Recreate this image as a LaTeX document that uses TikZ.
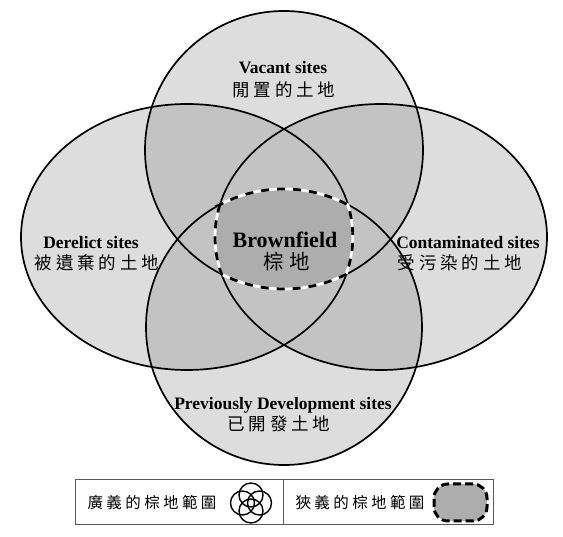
\documentclass[tikz,border=0pt]{standalone}
\usepackage{fontspec}
\setmainfont{Liberation Serif}
\newfontfamily\cjk{Noto Sans CJK TC}
\def\spacedtext#1{\spacedtexti#1\relax}
\def\spacedtexti#1#2{#1\ifx#2\relax\else\kern0.22em\expandafter\spacedtexti\expandafter#2\fi}
\definecolor{lightg}{gray}{0.865}
\definecolor{medg}{gray}{0.765}
\definecolor{darkg}{gray}{0.68}
\definecolor{boxline}{gray}{0.35}
\tikzset{
  en/.style={font=\fontsize{17.5}{18}\selectfont\bfseries, inner sep=0pt},
  zh/.style={font=\fontsize{17.5}{18}\selectfont\cjk, inner sep=0pt},
  legzh/.style={font=\fontsize{15.5}{16}\selectfont\cjk, inner sep=0pt},
  outline/.style={draw=black, line width=1.7pt},
}
\def\pT{(284,387) circle[radius=139]}
\def\pB{(284,210) circle[radius=138]}
\def\pL{(187,300) circle[x radius=166, y radius=133]}
\def\pR{(381,300) circle[x radius=166, y radius=133]}
\def\pC{(219.9,332.2) arc[start angle=166, end angle=196.3, x radius=166, y radius=133]
  arc[start angle=243.4, end angle=296.6, radius=139]
  arc[start angle=-16.3, end angle=14, x radius=166, y radius=133]
  arc[start angle=62.3, end angle=117.7, radius=138] -- cycle}
\begin{document}
\begin{tikzpicture}[x=1pt,y=1pt]
\useasboundingbox (0,0) rectangle (563,537);
% single fills
\fill[lightg] \pT; \fill[lightg] \pB; \fill[lightg] \pL; \fill[lightg] \pR;
% overlaps
\begin{scope}\clip \pT; \fill[medg] \pL; \fill[medg] \pR; \fill[medg] \pB;\end{scope}
\begin{scope}\clip \pL; \fill[medg] \pR; \fill[medg] \pB;\end{scope}
\begin{scope}\clip \pR; \fill[medg] \pB;\end{scope}
% centre
\fill[darkg] \pC;
% outlines
\draw[outline] \pT; \draw[outline] \pB; \draw[outline] \pL; \draw[outline] \pR;
% dashed brownfield border
\draw[white, line width=2.8pt] \pC;
\draw[black, line width=2.8pt, dash pattern=on 8pt off 8pt] \pC;
% labels
\node[en] (vacEn) at (283,469) {Vacant sites};
\node[zh] (vacZh) at (284,447) {\spacedtext{閒置的土地}};
\node[en] (derEn) at (91,294) {Derelict sites};
\node[zh] (derZh) at (97,274) {\spacedtext{被遺棄的土地}};
\node[en, font=\fontsize{22}{24}\selectfont\bfseries] (bfEn) at (285,297) {Brownfield};
\node[zh, font=\fontsize{20.5}{22}\selectfont\cjk] (bfZh) at (287,275) {棕\kern0.25em地};
\node[en] (conEn) at (468,294) {Contaminated sites};
\node[zh] (conZh) at (460,274) {\spacedtext{受污染的土地}};
\node[en] (preEn) at (283,132) {Previously Development sites};
\node[zh] (preZh) at (279,113) {\spacedtext{已開發土地}};
% legend
\draw[boxline, line width=1pt] (75.5,12) rectangle (493,57);
\draw[boxline, line width=1pt] (283.5,12) -- (283.5,57);
\node[legzh] (legA) at (152,34) {\spacedtext{廣義的棕地範圍}};
\node[legzh] (legB) at (360,34) {\spacedtext{狹義的棕地範圍}};
\begin{scope}[line width=1.4pt]
\draw (242.5,34) circle[radius=12];
\draw (259.5,34) circle[radius=12];
\draw (251,42) circle[radius=12];
\draw (251,26) circle[radius=12];
\end{scope}
\fill[darkg, rounded corners=14pt] (434,16) rectangle (487,53);
\draw[black, line width=3pt, dash pattern=on 8pt off 4pt, rounded corners=14pt] (434,16) rectangle (487,53);
\end{tikzpicture}
\end{document}
